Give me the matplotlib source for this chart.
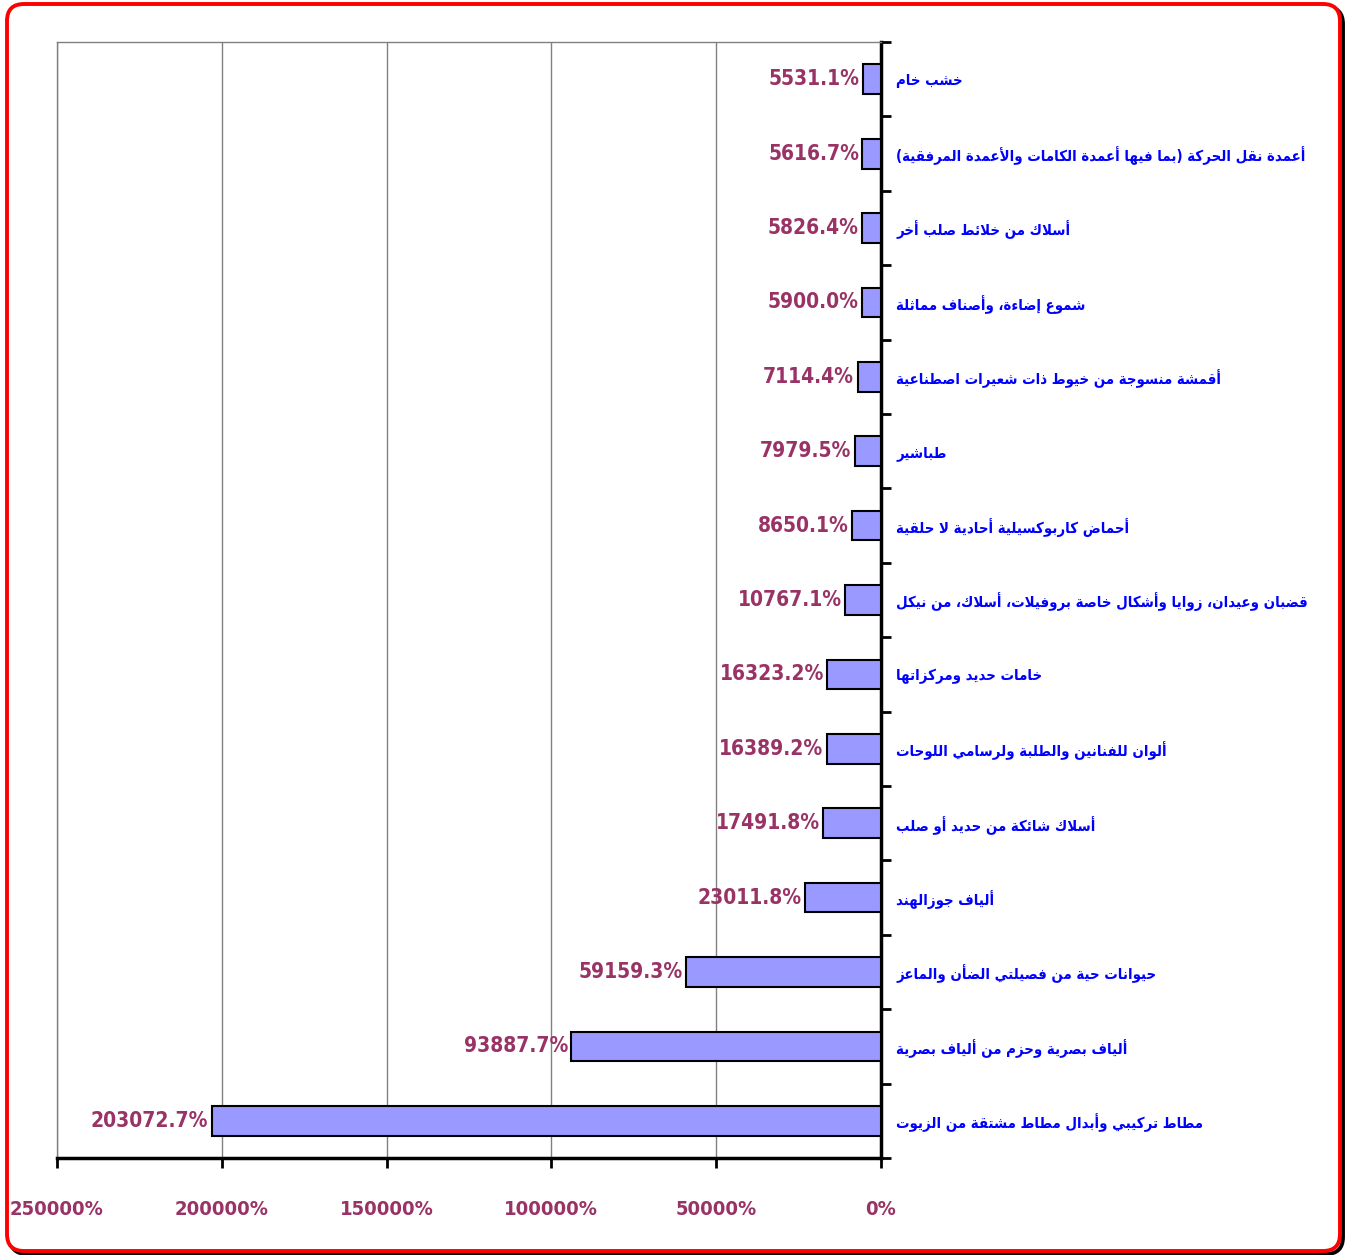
import matplotlib
matplotlib.use("Agg")
import matplotlib.pyplot as plt
from matplotlib.patches import FancyBboxPatch
from matplotlib import font_manager
import numpy as np

# categories, top to bottom as shown in the chart
categories = [
    "خشب خام",
    "أعمدة نقل الحركة (بما فيها أعمدة الكامات والأعمدة المرفقية)",
    "أسلاك من خلائط صلب أخر",
    "شموع إضاءة، وأصناف مماثلة",
    "أقمشة منسوجة من خيوط ذات شعيرات اصطناعية",
    "طباشير",
    "أحماض كاربوكسيلية أحادية لا حلقية",
    "قضبان وعيدان، زوايا وأشكال خاصة بروفيلات، أسلاك، من نيكل",
    "خامات حديد ومركزاتها",
    "ألوان للفنانين والطلبة ولرسامي اللوحات",
    "أسلاك شائكة من حديد أو صلب",
    "ألياف جوزالهند",
    "حيوانات حية من فصيلتي الضأن والماعز",
    "ألياف بصرية وحزم من ألياف بصرية",
    "مطاط تركيبي وأبدال مطاط مشتقة من الزيوت",
]
growth_pct = [5531.1, 5616.7, 5826.4, 5900.0, 7114.4, 7979.5, 8650.1, 10767.1,
              16323.2, 16389.2, 17491.8, 23011.8, 59159.3, 93887.7, 203072.7]
x_ticks = [0, 50000, 100000, 150000, 200000, 250000]

BLUE = "#0000FF"
MAROON = "#993366"
BAR = "#9999FF"

# --- minimal Arabic shaping (matplotlib has no complex text layout) ---
# letter -> (first presentation form, number of forms)
FORMS = {
    "\u0621": (0xFE80, 1), "\u0622": (0xFE81, 2), "\u0623": (0xFE83, 2),
    "\u0624": (0xFE85, 2), "\u0625": (0xFE87, 2), "\u0626": (0xFE89, 4),
    "\u0627": (0xFE8D, 2), "\u0628": (0xFE8F, 4), "\u0629": (0xFE93, 2),
    "\u062A": (0xFE95, 4), "\u062B": (0xFE99, 4), "\u062C": (0xFE9D, 4),
    "\u062D": (0xFEA1, 4), "\u062E": (0xFEA5, 4), "\u062F": (0xFEA9, 2),
    "\u0630": (0xFEAB, 2), "\u0631": (0xFEAD, 2), "\u0632": (0xFEAF, 2),
    "\u0633": (0xFEB1, 4), "\u0634": (0xFEB5, 4), "\u0635": (0xFEB9, 4),
    "\u0636": (0xFEBD, 4), "\u0637": (0xFEC1, 4), "\u0638": (0xFEC5, 4),
    "\u0639": (0xFEC9, 4), "\u063A": (0xFECD, 4), "\u0641": (0xFED1, 4),
    "\u0642": (0xFED5, 4), "\u0643": (0xFED9, 4), "\u0644": (0xFEDD, 4),
    "\u0645": (0xFEE1, 4), "\u0646": (0xFEE5, 4), "\u0647": (0xFEE9, 4),
    "\u0648": (0xFEED, 2), "\u0649": (0xFEEF, 2), "\u064A": (0xFEF1, 4),
}
LAM_ALEF = {"\u0622": 0xFEF5, "\u0623": 0xFEF7, "\u0625": 0xFEF9, "\u0627": 0xFEFB}
MIRROR = {"(": ")", ")": "("}


def shape_arabic(text):
    def joins_next(c):
        return c in FORMS and FORMS[c][1] == 4

    def joins(c):
        return c in FORMS and FORMS[c][1] > 1

    out = []
    i = 0
    n = len(text)
    while i < n:
        c = text[i]
        prev = text[i - 1] if i > 0 else ""
        nxt = text[i + 1] if i + 1 < n else ""
        if c not in FORMS:
            out.append(MIRROR.get(c, c))
            i += 1
            continue
        left = joins_next(prev) and joins(c)
        if c == "\u0644" and nxt in LAM_ALEF:
            out.append(chr(LAM_ALEF[nxt] + (1 if left else 0)))
            i += 2
            continue
        right = joins_next(c) and joins(nxt)
        base, count = FORMS[c]
        if count == 1:
            form = 0
        elif left and right:
            form = 3
        elif right:
            form = 2
        elif left:
            form = 1
        else:
            form = 0
        out.append(chr(base + form))
        i += 1
    return "".join(reversed(out))


# condensed bold face if the system has one, otherwise smaller normal width
cond_path = font_manager.findfont(font_manager.FontProperties(
    family="DejaVu Sans", weight="bold", stretch="condensed"))
condensed = "Condensed" in cond_path
stretch = "condensed" if condensed else "normal"
num_size = 15 if condensed else 13
tick_size = 14.5 if condensed else 12.5
ar_size = 10.7 if condensed else 9.5

fig = plt.figure(figsize=(13.46, 12.55), dpi=100)
ax = fig.add_axes([0.0423, 0.0773, 0.6122, 0.8892])

y = np.arange(len(categories))
ax.barh(y, growth_pct, height=0.4, color=BAR, edgecolor="black", linewidth=1.5, zorder=3)

ax.set_xlim(250000, 0)
ax.set_ylim(len(categories) - 0.5, -0.5)

# value labels
for yi, v in zip(y, growth_pct):
    ax.text(v + 1000, yi, f"{v:.1f}%", ha="right", va="center", color=MAROON,
            fontsize=num_size, fontweight="bold", fontstretch=stretch,
            family="DejaVu Sans", zorder=4)

# x axis
ax.set_xticks(x_ticks)
ax.set_xticklabels([f"{t}%" for t in x_ticks], color=MAROON, fontsize=tick_size,
                   fontweight="bold", fontstretch=stretch, family="DejaVu Sans")
ax.tick_params(axis="x", direction="out", length=7, width=2, pad=23)
ax.xaxis.grid(True, color="#808080", linewidth=1, zorder=0)

# y axis on the right, ticks between categories
ax.yaxis.tick_right()
ax.set_yticks(y)
ax.set_yticklabels([shape_arabic(c) for c in categories], color=BLUE, fontsize=ar_size,
                   fontweight="bold", fontstretch=stretch, family="DejaVu Sans", ha="left")
ax.tick_params(axis="y", which="major", length=0, pad=11)
ax.set_yticks(np.arange(-0.5, len(categories)), minor=True)
ax.tick_params(axis="y", which="minor", direction="out", length=7, width=2, right=True, left=False)

ax.spines["right"].set_linewidth(2.5)
ax.spines["bottom"].set_linewidth(2.5)
ax.spines["top"].set_color("#808080")
ax.spines["top"].set_linewidth(1)
ax.spines["left"].set_color("#808080")
ax.spines["left"].set_linewidth(1)

# rounded red frame with a small black shadow (inch units so corners stay round)
box = dict(boxstyle="round,pad=0,rounding_size=0.17", transform=fig.dpi_scale_trans,
           linewidth=2.8)
shadow = FancyBboxPatch((0.10, 0.01), 13.33, 12.47, edgecolor="black",
                        facecolor="none", zorder=-2, **box)
frame = FancyBboxPatch((0.07, 0.04), 13.33, 12.47, edgecolor="#FF0000",
                       facecolor="white", zorder=-1, **box)
fig.patches.extend([shadow, frame])

fig.savefig("out.png", dpi=100)
